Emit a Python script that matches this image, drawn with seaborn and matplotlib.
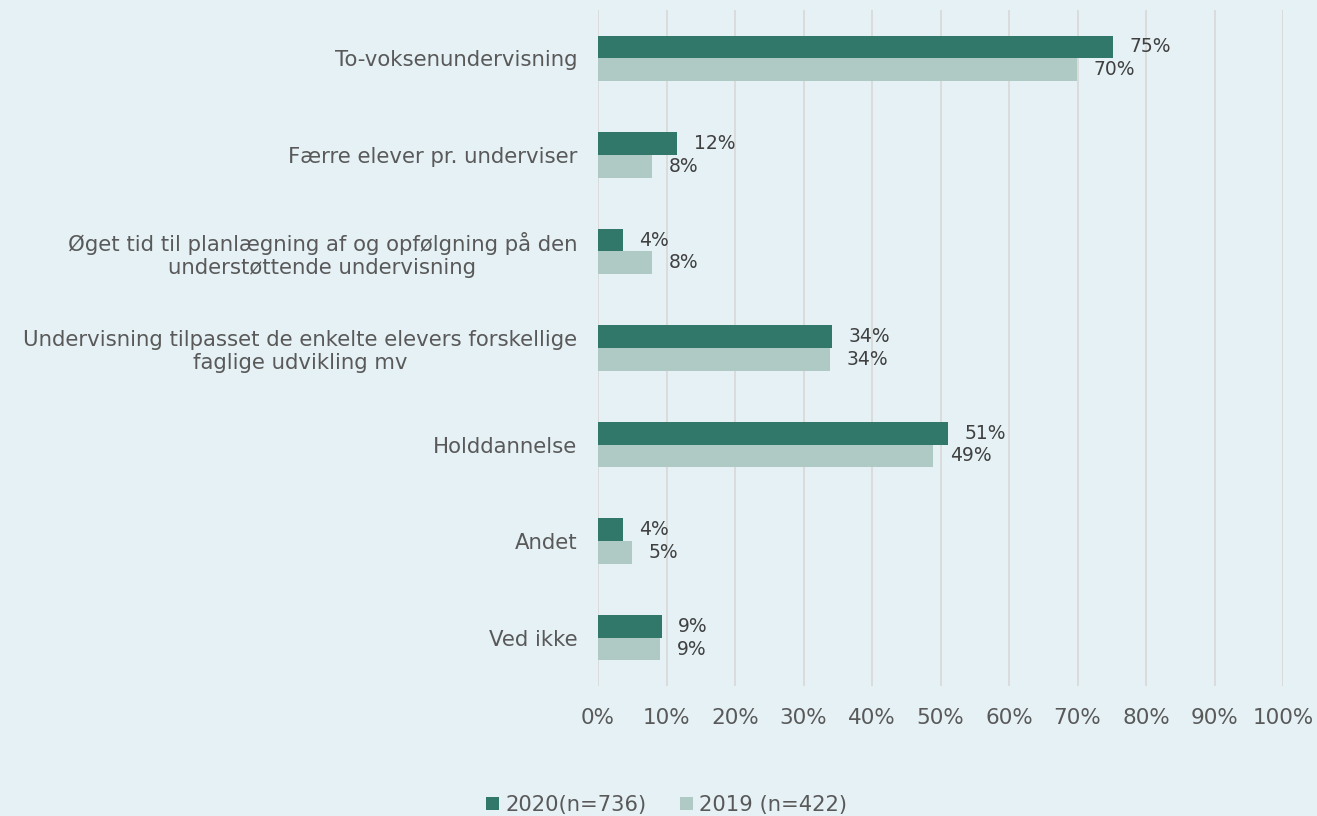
import matplotlib
matplotlib.use('Agg')
import matplotlib.pyplot as plt
import seaborn as sns
import pandas as pd
import numpy as np

categories = [
    "To-voksenundervisning",
    "Færre elever pr. underviser",
    "Øget tid til planlægning af og opfølgning på den\nunderstøttende undervisning",
    "Undervisning tilpasset de enkelte elevers forskellige\nfaglige udvikling mv",
    "Holddannelse",
    "Andet",
    "Ved ikke",
]
series = ["2020(n=736)", "2019 (n=422)"]
values_2020 = [75.2, 11.6, 3.6, 34.2, 51.1, 3.6, 9.3]
values_2019 = [69.9, 7.9, 7.9, 33.9, 48.9, 5.0, 9.1]
labels_2020 = ["75%", "12%", "4%", "34%", "51%", "4%", "9%"]
labels_2019 = ["70%", "8%", "8%", "34%", "49%", "5%", "9%"]
xticks = list(range(0, 101, 10))

bg = "#E5F1F5"
dark = "#31786A"
light = "#AFC9C5"
text_col = "#595959"

df = pd.DataFrame({
    "category": categories * 2,
    "value": values_2020 + values_2019,
    "series": [series[0]] * len(categories) + [series[1]] * len(categories),
})

sns.set_style("white")
plt.rcParams['font.family'] = ['DejaVu Sans']

fig = plt.figure(figsize=(13.17, 8.16), dpi=100, facecolor=bg)
ax = fig.add_axes([598 / 1317, 1 - 686 / 816, 685 / 1317, 676 / 816], facecolor=bg)

sns.barplot(data=df, y="category", x="value", hue="series", orient="h",
            order=categories, hue_order=series, palette=[dark, light],
            width=0.47, dodge=True, ax=ax, saturation=1, legend=True,
            linewidth=0)

for cont, labs in zip(ax.containers, [labels_2020, labels_2019]):
    ax.bar_label(cont, labels=labs, padding=12, fontsize=13.5, color="#404040")

ax.set_xlim(0, 100)
ax.set_ylim(len(categories) - 0.5, -0.5)
ax.set_xticks(xticks)
ax.set_xticklabels([f"{t}%" for t in xticks])
ax.xaxis.grid(True, color="#D9D9D9", linewidth=1.3)
ax.set_axisbelow(True)
ax.tick_params(axis="x", length=0, pad=16, labelsize=15.5, labelcolor=text_col)
ax.tick_params(axis="y", length=0, pad=15, labelsize=15.3, labelcolor=text_col)
for lbl in ax.get_yticklabels():
    lbl.set_multialignment("center")
ax.set_xlabel("")
ax.set_ylabel("")
for s in ax.spines.values():
    s.set_visible(False)

ax.legend(loc="center", bbox_to_anchor=(667 / 1317, 1 - 805 / 816),
          bbox_transform=fig.transFigure, ncol=2, frameon=False,
          fontsize=15.2, handlelength=0.6, handleheight=0.6, handletextpad=0.3,
          columnspacing=1.6, labelcolor=text_col)

fig.savefig("out.png", dpi=100, facecolor=bg)
